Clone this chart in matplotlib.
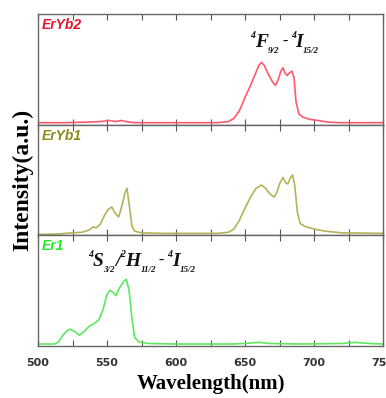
import matplotlib

matplotlib.use("Agg")
import matplotlib.pyplot as plt
from matplotlib.transforms import IdentityTransform

# ---- data (normalised to panel height) ----
wl_eryb2 = [500, 520, 535, 545, 552, 556, 560, 564, 570, 600, 630, 638, 642, 646,
            650, 654, 657, 660, 662, 664, 667, 670, 672, 674, 676, 677.5, 679,
            680.5, 682, 684, 685.5, 687, 689, 692, 697, 703, 710, 720, 750]
int_eryb2 = [0.01, 0.01, 0.015, 0.02, 0.03, 0.02, 0.03, 0.02, 0.01, 0.01, 0.01,
             0.02, 0.05, 0.12, 0.24, 0.35, 0.44, 0.53, 0.56, 0.53, 0.45, 0.38,
             0.35, 0.40, 0.48, 0.51, 0.46, 0.44, 0.46, 0.48, 0.42, 0.20, 0.09,
             0.06, 0.04, 0.03, 0.015, 0.01, 0.01]

wl_eryb1 = [500, 515, 525, 532, 537, 540, 542, 545, 548, 551, 553.5, 556, 558.5,
            561, 563, 564.5, 566, 568, 570, 575, 590, 630, 638, 642, 646, 650,
            654, 658, 662, 665, 668, 671, 673, 675, 677.5, 679.5, 681, 683,
            684.5, 686, 688, 690, 694, 700, 708, 720, 750]
int_eryb1 = [0.0, 0.005, 0.015, 0.02, 0.04, 0.07, 0.06, 0.09, 0.17, 0.23, 0.25,
             0.19, 0.16, 0.27, 0.38, 0.42, 0.28, 0.08, 0.03, 0.015, 0.01, 0.01,
             0.02, 0.05, 0.13, 0.24, 0.34, 0.42, 0.45, 0.42, 0.37, 0.34, 0.38,
             0.46, 0.52, 0.47, 0.46, 0.52, 0.54, 0.45, 0.20, 0.10, 0.07, 0.05,
             0.03, 0.015, 0.01]

wl_er1 = [500, 512, 515, 518, 521, 523.5, 527, 530, 533, 537, 541, 544, 547, 550,
          552, 554.5, 556.5, 559, 562, 564, 566, 568, 570, 573, 580, 600, 640,
          650, 660, 668, 690, 720, 730, 740, 750]
int_er1 = [0.01, 0.01, 0.03, 0.09, 0.13, 0.145, 0.12, 0.09, 0.12, 0.17, 0.20,
           0.23, 0.32, 0.46, 0.50, 0.48, 0.45, 0.52, 0.58, 0.60, 0.50, 0.25,
           0.07, 0.03, 0.015, 0.01, 0.01, 0.015, 0.025, 0.015, 0.01, 0.015,
           0.025, 0.015, 0.01]

samples = ["ErYb2", "ErYb1", "Er1"]
line_colors = ["#ff5a6e", "#b3b35a", "#5ee85e"]
text_colors = ["#e8142c", "#8c8c14", "#22ea22"]
xticks = [500, 550, 600, 650, 700, 750]

# transition labels: (text, kind) with kind = main / sup / sub / dash
trans_red = [("4", "sup"), ("F", "main"), ("9/2", "sub"), ("-", "dash"),
             ("4", "sup"), ("I", "main"), ("15/2", "sub")]
trans_green = [("4", "sup"), ("S", "main"), ("3/2", "sub"), ("/", "main"),
               ("2", "sup"), ("H", "main"), ("11/2", "sub"), ("-", "dash"),
               ("4", "sup"), ("I", "main"), ("15/2", "sub")]

fig = plt.figure(figsize=(3.86, 3.98), dpi=100)
renderer = fig.canvas.get_renderer()

left, right = 38 / 386, 383 / 386
bottom, top = 1 - 346 / 398, 1 - 14 / 398
h = (top - bottom) / 3

# size (pt), baseline shift (px), gap before (px)
piece_style = {"main": (14, 0, 0), "sup": (7, 9, 0), "sub": (6.5, -6, 0),
               "dash": (12, 1, 3)}


def draw_transition(ax, x, y, parts):
    """Write a term-symbol label piece by piece so the indices stay small."""
    px, py = ax.transData.transform((x, y))
    prev = None
    for text, kind in parts:
        size, dy, gap = piece_style[kind]
        if prev == "dash":
            gap = 3
        t = fig.text(px + gap, py + dy, text, transform=IdentityTransform(),
                     fontsize=size, family="Liberation Serif", fontweight="bold",
                     fontstyle="italic", color="#111111", ha="left",
                     va="baseline")
        px = t.get_window_extent(renderer).x1
        prev = kind


series = [(wl_eryb2, int_eryb2), (wl_eryb1, int_eryb1), (wl_er1, int_er1)]
axes = []
for i, (wl, inten) in enumerate(series):
    ax = fig.add_axes([left, top - (i + 1) * h, right - left, h])
    ax.plot(wl, inten, color=line_colors[i], lw=1.2)
    ax.set_xlim(500, 750)
    ax.set_ylim(-0.008, 1.0)
    ax.set_yticks([])
    ax.set_xticks(xticks)
    ax.set_xticks(range(525, 750, 50), minor=True)
    ax.tick_params(axis="x", which="both", direction="in", top=True,
                   length=4, width=0.8, color="#555555")
    for sp in ax.spines.values():
        sp.set_color("#666666")
        sp.set_linewidth(1.0)
    ax.text(0.01, 0.9, samples[i], transform=ax.transAxes, color=text_colors[i],
            fontsize=10, fontweight="bold", fontstyle="italic",
            family="Liberation Sans", ha="left", va="center")
    if i < 2:
        ax.set_xticklabels([])
    axes.append(ax)

draw_transition(axes[0], 653.5, 0.70, trans_red)
draw_transition(axes[2], 536, 0.72, trans_green)

axes[2].tick_params(axis="x", labelsize=8, pad=9)
for lab in axes[2].get_xticklabels():
    lab.set_fontweight("bold")
    lab.set_family("Liberation Sans Narrow")
    lab.set_color("#333333")

axes[2].set_xlabel("Wavelength(nm)", fontsize=15, fontweight="bold",
                   family="Liberation Serif", labelpad=4)
fig.text(0.058, (top + bottom) / 2, "Intensity(a.u.)", rotation=90,
         fontsize=17, fontweight="bold", family="Liberation Serif",
         ha="center", va="center")

fig.savefig("out.png", dpi=100)
